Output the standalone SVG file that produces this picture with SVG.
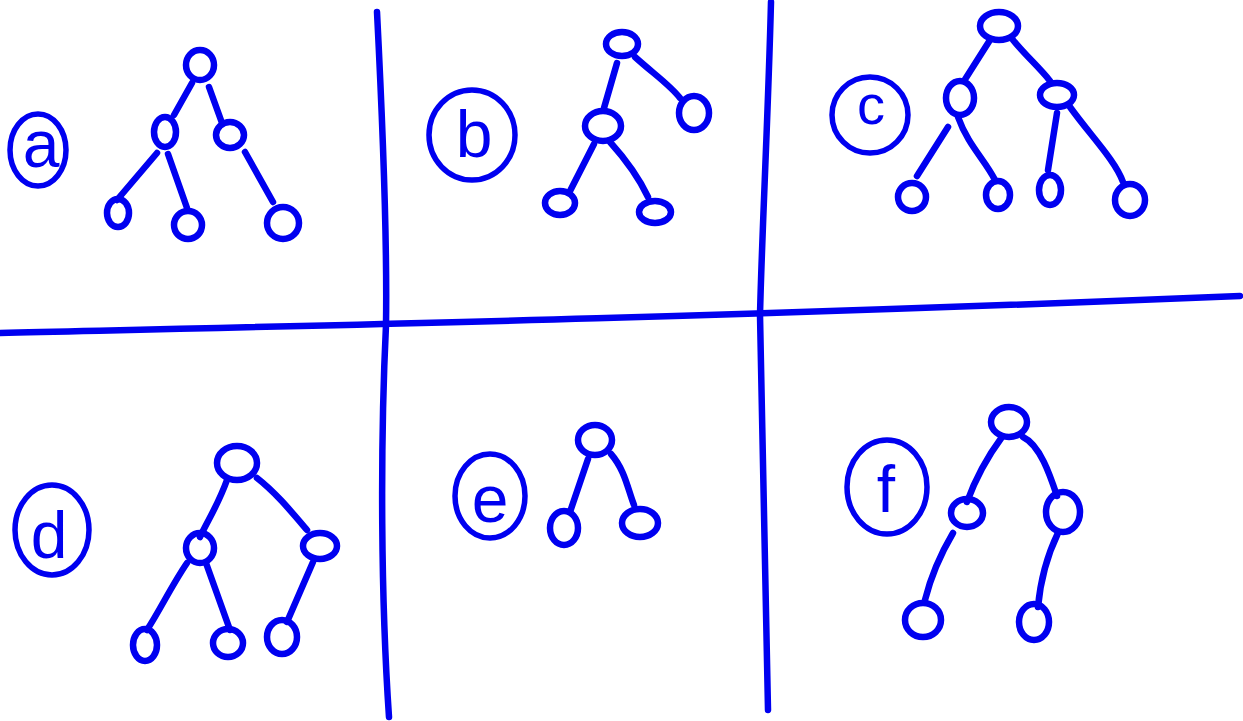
<svg xmlns="http://www.w3.org/2000/svg" width="1243" height="721" viewBox="0 0 1243 721">
<style>
.ln{fill:none;stroke:#0000f0;stroke-width:6.5;stroke-linecap:round;stroke-linejoin:round}
.nd{fill:none;stroke:#0000f0;stroke-width:6.5}
.lb{fill:none;stroke:#0000f0;stroke-width:5.5}
.tx{font-family:"Liberation Sans",Arial,sans-serif;font-size:66px;fill:#0000f0;text-anchor:middle}
</style>
<rect width="1243" height="721" fill="#fff"/>
<g id="grid" class="ln">
<path d="M0,333 C300,326 700,318 1240,296"/>
<path d="M377,12 C384,150 387,260 386,325 C380,450 381,600 389,717"/>
<path d="M771,2 C768,120 762,230 760,315 C763,450 765,600 768,710"/>
</g>
<g id="connectors" class="ln">
<path d="M192,83 L174,115"/>
<path d="M209,87 L222,123"/>
<path d="M157,153 L117,200"/>
<path d="M168,154 L187,208"/>
<path d="M245,152 L273,202"/>
<path d="M617,63 L604,108"/>
<path d="M635,57 C655,75 670,85 680,98"/>
<path d="M594,144 L569,193"/>
<path d="M610,142 C628,162 640,180 648,197"/>
<path d="M990,40 L964,81"/>
<path d="M1013,40 C1025,55 1040,68 1050,81"/>
<path d="M948,127 L917,176"/>
<path d="M958,117 C968,145 985,160 995,180"/>
<path d="M1057,113 L1048,170"/>
<path d="M1070,107 C1090,135 1115,160 1123,182"/>
<path d="M227,480 C218,505 208,520 200,537"/>
<path d="M257,478 C275,492 290,510 307,530"/>
<path d="M187,563 C172,585 160,610 147,630"/>
<path d="M206,563 L230,630"/>
<path d="M313,562 L287,622"/>
<path d="M588,459 L570,512"/>
<path d="M611,454 C625,470 628,490 634,505"/>
<path d="M1002,437 C985,460 975,480 967,502"/>
<path d="M1023,437 C1040,445 1050,475 1057,496"/>
<path d="M953,533 C940,555 930,580 925,600"/>
<path d="M1058,533 C1045,560 1040,585 1038,607"/>
</g>
<g id="label-a"><ellipse class="lb" cx="38" cy="150" rx="28" ry="36"/><text class="tx" x="41" y="167">a</text></g>
<g id="label-b"><ellipse class="lb" cx="472" cy="135" rx="43" ry="45"/><text class="tx" x="474" y="157">b</text></g>
<g id="label-c"><ellipse class="lb" cx="870" cy="115" rx="38" ry="38"/><text class="tx" x="871" y="124" style="font-size:56px">c</text></g>
<g id="label-d"><ellipse class="lb" cx="52" cy="530" rx="37" ry="45"/><text class="tx" x="49" y="558">d</text></g>
<g id="label-e"><ellipse class="lb" cx="490" cy="496" rx="35" ry="42"/><text class="tx" x="490" y="522">e</text></g>
<g id="label-f"><ellipse class="lb" cx="887" cy="487" rx="40" ry="47"/><text class="tx" x="886" y="512">f</text></g>
<g id="a-root"><ellipse class="nd" cx="200" cy="65" rx="14" ry="15"/></g>
<g id="a-l"><ellipse class="nd" cx="165" cy="132" rx="11" ry="15"/></g>
<g id="a-r"><ellipse class="nd" cx="230" cy="135" rx="14" ry="13"/></g>
<g id="a-ll"><ellipse class="nd" cx="118" cy="213" rx="11" ry="14"/></g>
<g id="a-lr"><ellipse class="nd" cx="188" cy="225" rx="14" ry="14"/></g>
<g id="a-rr"><ellipse class="nd" cx="283" cy="223" rx="16" ry="16"/></g>
<g id="b-root"><ellipse class="nd" cx="622" cy="44" rx="16" ry="12"/></g>
<g id="b-l"><ellipse class="nd" cx="603" cy="126" rx="18" ry="15"/></g>
<g id="b-r"><ellipse class="nd" cx="694" cy="113" rx="15" ry="17"/></g>
<g id="b-ll"><ellipse class="nd" cx="560" cy="203" rx="15" ry="12"/></g>
<g id="b-lr"><ellipse class="nd" cx="655" cy="212" rx="16" ry="11"/></g>
<g id="c-root"><ellipse class="nd" cx="999" cy="26" rx="19" ry="14"/></g>
<g id="c-l"><ellipse class="nd" cx="960" cy="98" rx="14" ry="17"/></g>
<g id="c-r"><ellipse class="nd" cx="1057" cy="95" rx="17" ry="12"/></g>
<g id="c-ll"><ellipse class="nd" cx="912" cy="197" rx="14" ry="14"/></g>
<g id="c-lr"><ellipse class="nd" cx="998" cy="195" rx="12" ry="14"/></g>
<g id="c-rl"><ellipse class="nd" cx="1050" cy="190" rx="11" ry="15"/></g>
<g id="c-rr"><ellipse class="nd" cx="1130" cy="200" rx="15" ry="16"/></g>
<g id="d-root"><ellipse class="nd" cx="237" cy="463" rx="20" ry="17"/></g>
<g id="d-l"><ellipse class="nd" cx="200" cy="548" rx="14" ry="15"/></g>
<g id="d-r"><ellipse class="nd" cx="320" cy="546" rx="17" ry="13"/></g>
<g id="d-ll"><ellipse class="nd" cx="145" cy="645" rx="12" ry="16"/></g>
<g id="d-lr"><ellipse class="nd" cx="228" cy="643" rx="15" ry="14"/></g>
<g id="d-rl"><ellipse class="nd" cx="282" cy="637" rx="15" ry="17"/></g>
<g id="e-root"><ellipse class="nd" cx="595" cy="440" rx="17" ry="15"/></g>
<g id="e-l"><ellipse class="nd" cx="564" cy="528" rx="14" ry="17"/></g>
<g id="e-r"><ellipse class="nd" cx="640" cy="523" rx="18" ry="14"/></g>
<g id="f-root"><ellipse class="nd" cx="1009" cy="422" rx="18" ry="15"/></g>
<g id="f-l"><ellipse class="nd" cx="967" cy="513" rx="16" ry="14"/></g>
<g id="f-r"><ellipse class="nd" cx="1063" cy="512" rx="17" ry="20"/></g>
<g id="f-ll"><ellipse class="nd" cx="923" cy="620" rx="18" ry="17"/></g>
<g id="f-rl"><ellipse class="nd" cx="1034" cy="622" rx="15" ry="18"/></g>
</svg>
